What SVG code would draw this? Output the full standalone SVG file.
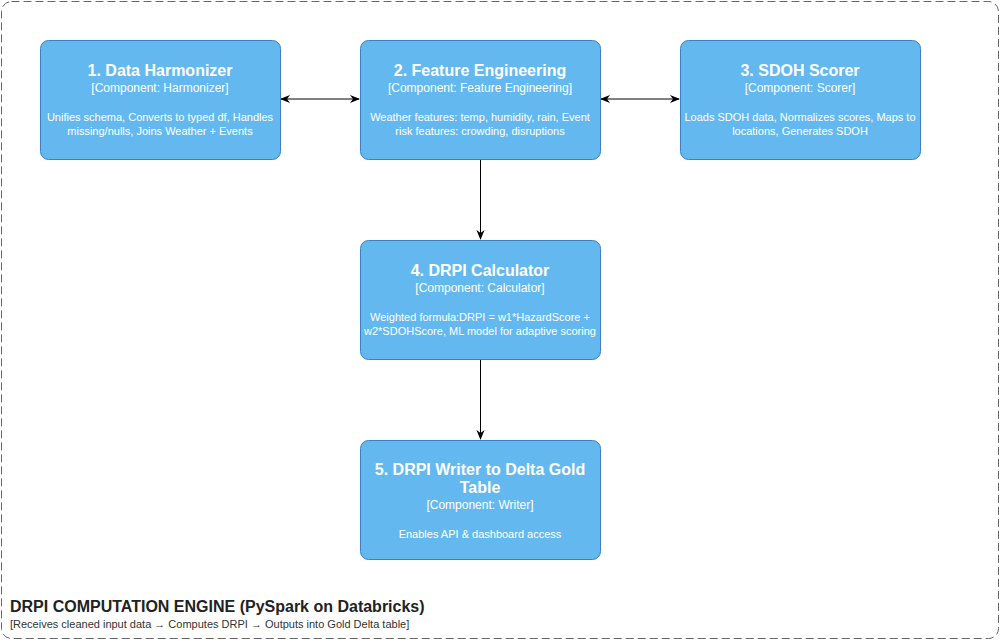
<svg xmlns="http://www.w3.org/2000/svg" width="1002" height="642" viewBox="0 0 1002 642">
<style>
text{font-family:"Liberation Sans",Arial,Helvetica,sans-serif;fill:#fff;text-anchor:middle}
.box{fill:#63B9EF;stroke:#3E80BE;stroke-width:1}
.t{font-size:16px;font-weight:bold}
.s{font-size:12px}
.d{font-size:11px}
.c{stroke:#000;stroke-width:1;fill:none}
.bt{fill:#222;text-anchor:start;font-size:16px;font-weight:bold}
.bs{fill:#333;text-anchor:start;font-size:11px}
</style>
<defs>
<marker id="ah" viewBox="0 0 10 10" refX="9" refY="5" markerWidth="10" markerHeight="10" markerUnits="userSpaceOnUse" orient="auto-start-reverse">
<path d="M0,1 L10,5 L0,9 L3,5 Z" fill="#000"/>
</marker>
</defs>
<rect width="1002" height="642" fill="#fff"/>
<g id="boundary">
<rect x="1.5" y="1.5" width="997" height="637" rx="10" fill="none" stroke="#666" stroke-width="1" stroke-dasharray="8 4"/>
<text class="bt" x="10" y="612">DRPI COMPUTATION ENGINE (PySpark on Databricks)</text>
<text class="bs" x="10" y="628">[Receives cleaned input data → Computes DRPI → Outputs into Gold Delta table]</text>
</g>
<g id="connectors">
<line class="c" x1="281" y1="99" x2="359" y2="99" marker-start="url(#ah)" marker-end="url(#ah)"/>
<line class="c" x1="601" y1="99" x2="679" y2="99" marker-start="url(#ah)" marker-end="url(#ah)"/>
<line class="c" x1="480.5" y1="160" x2="480.5" y2="239" marker-end="url(#ah)"/>
<line class="c" x1="480.5" y1="360" x2="480.5" y2="439" marker-end="url(#ah)"/>
</g>
<g id="n1">
<rect class="box" x="40.5" y="40.5" width="240" height="119" rx="8"/>
<text class="t" x="160" y="76">1. Data Harmonizer</text>
<text class="s" x="160" y="92">[Component: Harmonizer]</text>
<text class="d" x="160" y="121">Unifies schema, Converts to typed df, Handles</text>
<text class="d" x="160" y="135">missing/nulls, Joins Weather + Events</text>
</g>
<g id="n2">
<rect class="box" x="360.5" y="40.5" width="240" height="119" rx="8"/>
<text class="t" x="480" y="76">2. Feature Engineering</text>
<text class="s" x="480" y="92">[Component: Feature Engineering]</text>
<text class="d" x="480" y="121">Weather features: temp, humidity, rain, Event</text>
<text class="d" x="480" y="135">risk features: crowding, disruptions</text>
</g>
<g id="n3">
<rect class="box" x="680.5" y="40.5" width="240" height="119" rx="8"/>
<text class="t" x="800" y="76">3. SDOH Scorer</text>
<text class="s" x="800" y="92">[Component: Scorer]</text>
<text class="d" x="800" y="121">Loads SDOH data, Normalizes scores, Maps to</text>
<text class="d" x="800" y="135">locations, Generates SDOH</text>
</g>
<g id="n4">
<rect class="box" x="360.5" y="240.5" width="240" height="119" rx="8"/>
<text class="t" x="480" y="276">4. DRPI Calculator</text>
<text class="s" x="480" y="292">[Component: Calculator]</text>
<text class="d" x="480" y="321">Weighted formula:DRPI = w1*HazardScore +</text>
<text class="d" x="480" y="335">w2*SDOHScore, ML model for adaptive scoring</text>
</g>
<g id="n5">
<rect class="box" x="360.5" y="440.5" width="240" height="119" rx="8"/>
<text class="t" x="480" y="475">5. DRPI Writer to Delta Gold</text>
<text class="t" x="480" y="493">Table</text>
<text class="s" x="480" y="509">[Component: Writer]</text>
<text class="d" x="480" y="538">Enables API &amp; dashboard access</text>
</g>
</svg>
